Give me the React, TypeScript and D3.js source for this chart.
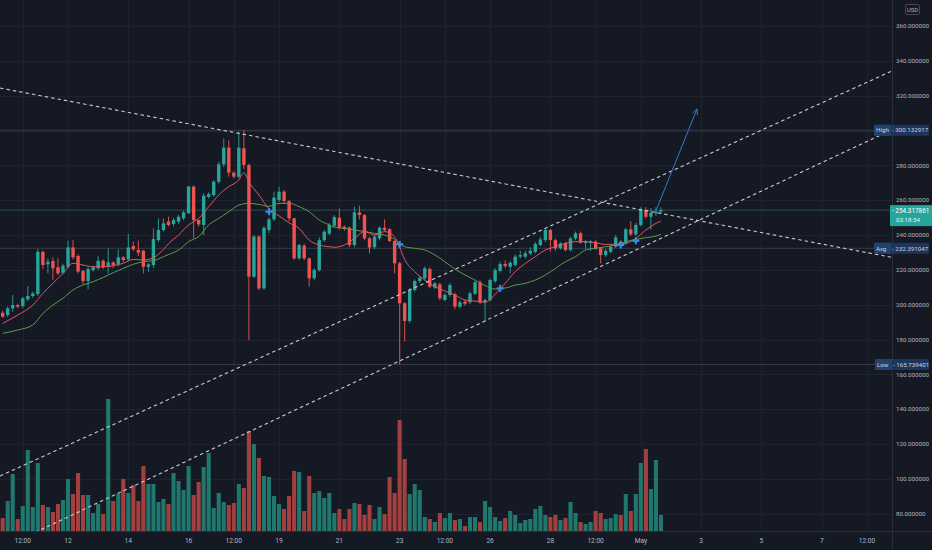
import React from 'react';
import * as d3 from 'd3';

// ---- Data (4h candles, hours relative to Apr 12 00:00) ----
const firstBarHour = -52;
const barHours = 4;

const opens = [195.4,194.1,197.9,199.8,199.3,203.1,205.0,206.2,230.4,223.2,225.1,221.5,218.4,221.8,232.9,228.0,219.4,213.6,219.9,220.9,225.3,221.8,224.3,223.2,227.2,226.0,233.7,231.4,231.0,221.8,222.8,237.1,242.9,247.7,246.3,247.7,249.6,252.5,267.8,248.6,245.8,261.9,263.0,270.6,280.6,290.2,275.8,273.5,289.8,280.2,216.1,239.1,209.4,242.9,249.0,260.1,264.9,259.5,249.6,226.6,233.9,226.6,215.2,219.9,237.1,240.8,245.4,250.0,244.8,244.2,234.3,253.0,251.5,238.1,233.0,238.1,244.2,243.3,236.6,223.8,200.8,190.7,208.5,213.6,215.2,220.5,209.8,211.7,202.7,205.6,206.0,198.9,201.8,201.4,206.4,212.9,201.4,202.7,213.6,219.5,223.4,221.8,222.8,227.6,227.6,229.5,230.4,234.3,237.1,242.9,237.1,232.4,235.2,231.4,238.1,241.0,235.4,235.6,236.2,232.4,228.5,230.4,233.3,236.2,235.6,243.3,240.4,245.8,254.4,250.5,252.5,253.4];
const highs = [196.5,199.0,205.6,200.5,204.5,210.7,207.5,232.0,231.0,226.6,227.2,226.6,223.5,236.8,237.2,229.0,220.0,221.5,222.5,228.0,226.0,232.4,225.0,231.8,228.0,240.6,236.2,236.8,231.5,224.0,243.8,249.6,249.6,250.5,250.0,251.5,254.0,268.3,268.5,249.0,264.0,264.5,271.5,282.0,295.5,294.5,276.5,299.3,300.13,281.0,240.0,240.0,244.8,250.0,264.9,267.8,266.0,260.0,250.0,235.0,235.0,227.0,221.0,238.7,243.0,247.0,251.5,255.3,245.5,245.0,256.3,256.9,252.0,239.0,240.0,245.0,249.0,244.0,237.0,224.5,201.5,209.5,214.5,216.5,222.0,221.5,213.0,212.5,206.5,212.5,207.0,202.5,202.5,207.5,214.0,214.0,203.5,215.0,221.0,224.7,225.5,225.0,229.0,231.0,231.0,233.0,236.0,239.0,244.0,243.5,238.0,236.0,236.0,239.0,242.0,242.0,237.0,237.0,237.0,233.0,232.0,234.5,240.0,237.0,244.0,248.0,247.0,256.0,256.0,255.5,256.0,256.0];
const lows = [192.5,193.0,196.0,198.0,198.0,202.0,204.0,205.0,220.5,218.0,214.2,217.0,217.5,220.9,226.0,218.0,211.7,208.8,219.0,220.0,220.5,218.0,220.9,222.0,224.5,225.0,231.0,228.0,218.0,219.0,221.0,236.0,242.0,245.0,245.0,246.5,248.5,252.3,238.1,245.0,240.0,261.0,262.0,269.5,279.0,273.5,272.5,272.5,278.0,179.7,215.2,208.5,208.5,241.0,248.0,259.0,258.0,248.0,225.7,225.7,225.5,210.4,214.0,219.0,236.0,240.0,244.5,243.0,242.5,233.0,233.0,249.0,237.0,229.5,232.0,237.0,242.0,236.0,218.0,165.74,178.8,189.5,207.5,212.5,214.0,209.5,209.0,202.5,202.0,204.5,197.5,198.0,199.5,200.5,205.5,200.5,190.3,202.0,212.5,218.5,221.0,218.0,222.0,226.5,226.5,228.5,229.5,233.5,236.0,230.4,231.0,231.5,230.5,230.5,237.0,235.0,232.0,231.0,231.5,223.7,227.5,229.5,232.5,234.0,234.5,239.5,239.5,245.0,249.5,243.0,251.0,252.5];
const closes = [193.1,197.9,199.8,198.9,203.7,205.0,206.5,230.4,222.8,224.7,220.9,218.0,222.4,232.9,227.2,219.0,213.6,220.5,221.5,225.3,221.5,224.3,222.8,227.2,225.7,232.9,231.8,229.9,221.8,223.2,237.7,242.9,246.7,245.8,248.6,250.5,253.0,267.8,248.6,246.1,262.6,263.5,270.6,280.6,290.2,275.8,273.5,290.2,280.2,216.1,239.1,209.4,244.2,249.0,261.5,264.9,259.5,249.6,226.6,234.3,226.6,215.2,219.9,237.1,241.9,245.8,250.3,244.2,243.5,234.3,253.0,251.5,238.1,232.8,239.1,244.2,242.9,236.6,223.8,200.8,190.7,208.5,213.6,215.5,220.9,210.4,212.3,203.7,205.6,211.3,198.9,201.4,200.6,206.5,212.9,201.4,202.7,214.2,219.9,223.4,222.2,224.1,227.6,228.5,229.5,231.0,234.9,237.5,242.9,237.1,232.4,235.2,231.4,238.1,241.0,235.6,236.2,236.4,232.4,228.5,231.0,233.3,238.7,235.2,243.3,240.4,245.8,254.4,250.5,252.8,253.4,254.32];
const volumes = [13,30,57,12,25,81,24,68,26,24,19,27,31,52,37,58,36,36,18,27,17,132,30,37,52,38,46,30,65,47,47,29,32,27,58,50,41,65,36,49,64,78,23,38,29,26,28,47,43,100,87,73,55,54,35,27,22,35,60,59,20,55,38,40,33,38,18,22,12,22,28,27,16,26,12,24,17,54,38,111,72,37,47,41,14,12,9,18,13,18,11,12,5,14,14,9,30,24,14,10,13,20,16,8,11,12,22,25,16,14,16,11,13,29,18,9,7,9,20,18,12,13,17,16,37,20,37,68,82,42,71,16];

const fastMaIdx = [0,3,6,8,10,12,14,16,18,20,22,24,26,28,30,32,33,35,37,39,41,43,45,47,48,49,51,53,55,57,59,61,63,65,66,68,70,72,74,76,78,79,80,82,84,86,88,90,92,94,96,98,100,102,104,106,108,110,112,114,116,118,120,122,124,126,128,130,131];
const fastMaVal = [189.3,194.1,199.8,206.5,212.3,218.0,223.8,222.8,221.8,221.8,222.4,223.8,226.0,225.7,227.0,231.8,235.0,240.0,245.8,249.6,256.3,263.0,267.8,271.6,275.8,270.5,263.0,255.0,251.0,247.0,243.8,237.1,234.3,233.3,233.0,234.3,238.1,242.0,240.0,242.0,239.0,233.0,226.0,219.0,214.2,210.4,207.9,205.6,202.7,202.1,201.4,206.0,212.3,219.0,223.7,227.6,231.4,233.3,235.2,236.2,236.2,235.6,234.6,234.8,235.2,238.1,242.9,246.7,248.1];
const slowMaIdx = [0,3,6,8,10,12,14,16,18,20,22,24,26,28,30,32,33,35,37,39,41,43,45,47,49,51,53,55,57,59,61,63,65,66,68,70,72,74,76,78,79,80,82,84,86,88,90,92,94,96,98,99,100,102,104,106,108,110,112,114,116,118,120,122,124,126,128,130,131];
const slowMaVal = [183.6,185.5,188.4,195.0,199.8,203.7,208.5,211.3,213.2,215.7,218.4,220.9,223.2,224.7,225.3,227.6,228.8,231.4,236.2,239.1,245.8,249.6,253.4,257.2,258.2,257.6,256.5,258.2,258.2,256.3,253.4,248.6,245.8,244.5,243.9,242.9,242.0,241.0,240.0,237.5,235.0,233.3,232.4,231.4,228.6,224.7,220.5,217.1,214.2,211.0,209.0,209.4,209.6,211.3,212.3,214.2,217.1,220.9,224.7,227.6,231.4,232.4,233.3,234.3,236.2,237.5,238.5,239.4,240.4];

const crossIdx = [53, 79, 99, 123, 126];
const crossVal = [253.4, 234.7, 209.4, 234.3, 236.7];

const priceTicks = [80,100,120,140,160,180,200,220,240,260,280,300,320,340,360];
const timeTickHours = [-36,0,48,96,132,168,216,264,300,336,384,420,456,504,552,600,636];
const timeTickLabels = ['12:00','12','14','16','12:00','19','21','23','12:00','26','28','12:00','May','3','5','7','12:00'];

const highValue = 300.132917;
const avgValue = 232.391047;
const lowValue = 165.739401;
const lastValue = 254.317861;
const countdown = '03:18:54';

// drawings: [hour1, price1, hour2, price2]
const trendLines = [
  [-54.13, 324.4, 655.9, 227.2],
  [-54.13, 101.7, 655.9, 334.2],
  [-54.13, 59.9, 655.9, 300.5],
];
const arrowLine = [467.3, 252.65, 500.7, 312.4];

const W = 932, H = 550, PR = 892, PB = 531;
const FONT = 'Roboto, "DejaVu Sans", sans-serif';

export default function App() {
  const x = d3.scaleLinear().domain([-54.13, 655.92]).range([0, PR]);
  const y = d3.scaleLinear().domain([80, 360]).range([513.8, 26]);
  const yVol = d3.scaleLinear().domain([0, 140]).range([PB, PB - 140]);
  const barX = (i: number) => x(firstBarHour + i * barHours);
  const up = '#26a69a', down = '#ef5350';
  const bodyW = 3.4, volW = 4.1;

  const maLine = d3.line<[number, number]>()
    .x(d => barX(d[0])).y(d => y(d[1])).curve(d3.curveMonotoneX);
  const fastPts = fastMaIdx.map((v, k) => [v, fastMaVal[k]] as [number, number]);
  const slowPts = slowMaIdx.map((v, k) => [v, slowMaVal[k]] as [number, number]);

  const [ah1, ap1, ah2, ap2] = arrowLine;
  const ax1 = x(ah1), ay1 = y(ap1), ax2 = x(ah2), ay2 = y(ap2);
  const ang = Math.atan2(ay2 - ay1, ax2 - ax1);
  const hl = 6;
  const wing = (s: number) => [ax2 - hl * Math.cos(ang + s * 0.45), ay2 - hl * Math.sin(ang + s * 0.45)];
  const w1 = wing(1), w2 = wing(-1);

  const tagValues = [highValue, avgValue, lowValue];
  const visibleTicks = priceTicks.filter(p => tagValues.every(v => Math.abs(y(p) - y(v)) > 8));

  const tag = (label: string, value: number, x0: number) => {
    const cy = y(value);
    return (
      <g key={label}>
        <rect x={x0} y={cy - 5.5} width={929 - x0} height={11} fill="#1c355c" rx={1} />
        <rect x={x0} y={cy - 5.5} width={17} height={11} fill="#22416e" rx={1} />
        <text x={x0 + 2} y={cy + 2.2} fontSize={6.2} fill="#d1d4dc" fontFamily={FONT}>{label}</text>
        <text x={x0 + 18} y={cy + 2.2} fontSize={6.2} fill="#d1d4dc" fontFamily={FONT}>{'- ' + value.toFixed(6)}</text>
      </g>
    );
  };

  return (
    <svg width={W} height={H} style={{ position: 'absolute', left: 0, top: 0, background: '#151924' }}>
      <defs>
        <clipPath id="plot"><rect x={0} y={0} width={PR} height={PB} /></clipPath>
      </defs>
      <rect x={0} y={0} width={W} height={H} fill="#151924" />
      {/* grid */}
      <g stroke="#1f2330" strokeWidth={1}>
        {priceTicks.map(p => <line key={p} x1={0} x2={PR} y1={Math.round(y(p)) + 0.5} y2={Math.round(y(p)) + 0.5} />)}
        {timeTickHours.map((h, k) => <line key={k} x1={Math.round(x(h)) + 0.5} x2={Math.round(x(h)) + 0.5} y1={0} y2={PB} />)}
      </g>
      {/* stat lines */}
      <g strokeWidth={1}>
        <line x1={0} x2={PR} y1={y(highValue)} y2={y(highValue)} stroke="#363b49" />
        <line x1={0} x2={PR} y1={y(avgValue)} y2={y(avgValue)} stroke="#363b49" />
        <line x1={0} x2={PR} y1={y(lowValue)} y2={y(lowValue)} stroke="#363b49" />
        <line x1={0} x2={PR} y1={y(lastValue)} y2={y(lastValue)} stroke="#2b4f52" />
      </g>
      <g clipPath="url(#plot)">
        {/* volume */}
        {volumes.map((v, i) => (
          <rect key={'v' + i} x={barX(i) - volW / 2} y={yVol(v)} width={volW} height={PB - yVol(v)}
            fill={closes[i] >= opens[i] ? '#1f776d' : '#a2403f'} />
        ))}
        {/* candles */}
        {opens.map((o, i) => {
          const c = closes[i];
          const col = c >= o ? up : down;
          const top = y(Math.max(o, c)), bot = y(Math.min(o, c));
          const cx = barX(i);
          return (
            <g key={'c' + i}>
              <line x1={cx} x2={cx} y1={y(highs[i])} y2={y(lows[i])} stroke={col} strokeWidth={0.9} />
              <rect x={cx - bodyW / 2} y={top} width={bodyW} height={Math.max(1, bot - top)} fill={col} />
            </g>
          );
        })}
        {/* moving averages */}
        <path d={maLine(slowPts) || ''} fill="none" stroke="#5e9a4a" strokeWidth={1} />
        <path d={maLine(fastPts) || ''} fill="none" stroke="#e05667" strokeWidth={1} />
        {/* cross markers */}
        {crossIdx.map((ci, k) => {
          const cx = barX(ci), cy = y(crossVal[k]);
          return (
            <g key={'x' + k} stroke="#2f8fe8" strokeWidth={2.2}>
              <line x1={cx - 3.5} x2={cx + 3.5} y1={cy} y2={cy} />
              <line x1={cx} x2={cx} y1={cy - 3.5} y2={cy + 3.5} />
            </g>
          );
        })}
        {/* trend lines */}
        {trendLines.map((t, k) => (
          <line key={'t' + k} x1={x(t[0])} y1={y(t[1])} x2={x(t[2])} y2={y(t[3])}
            stroke="#c9ccd4" strokeWidth={1.1} strokeDasharray="3.5,3" />
        ))}
        {/* arrow */}
        <g stroke="#2f7ad0" strokeWidth={1} fill="none">
          <line x1={ax1} y1={ay1} x2={ax2} y2={ay2} />
          <polyline points={`${w1[0]},${w1[1]} ${ax2},${ay2} ${w2[0]},${w2[1]}`} />
        </g>
      </g>
      {/* axes borders */}
      <line x1={PR + 0.5} x2={PR + 0.5} y1={0} y2={H} stroke="#2a2e39" />
      <line x1={0} x2={W} y1={PB + 0.5} y2={PB + 0.5} stroke="#2a2e39" />
      {/* price labels */}
      {visibleTicks.map(p => (
        <text key={'pl' + p} x={896} y={y(p) + 2.2} fontSize={6.2} fill="#b2b5be" fontFamily={FONT}>{p.toFixed(6)}</text>
      ))}
      {/* USD */}
      <rect x={905.5} y={4.5} width={14} height={10} fill="none" stroke="#434651" rx={1.5} />
      <text x={912.5} y={11.7} fontSize={5.8} fill="#b2b5be" textAnchor="middle" fontFamily={FONT}>USD</text>
      {/* time labels */}
      {timeTickHours.map((h, k) => (
        <text key={'tl' + k} x={x(h)} y={543} fontSize={6.6} fill="#b2b5be" textAnchor="middle" fontFamily={FONT}>{timeTickLabels[k]}</text>
      ))}
      {/* tags */}
      {tag('High', highValue, 874)}
      {tag('Avg', avgValue, 874)}
      {tag('Low', lowValue, 875)}
      <g>
        <rect x={890} y={y(lastValue) - 5} width={42} height={21} fill="#26a69a" />
        <text x={892} y={y(lastValue) + 2.4} fontSize={6.4} fill="#ffffff" fontFamily={FONT}>{'- ' + lastValue.toFixed(6)}</text>
        <text x={896} y={y(lastValue) + 11.5} fontSize={6.2} fill="#e6f5f3" fontFamily={FONT}>{countdown}</text>
      </g>
    </svg>
  );
}
